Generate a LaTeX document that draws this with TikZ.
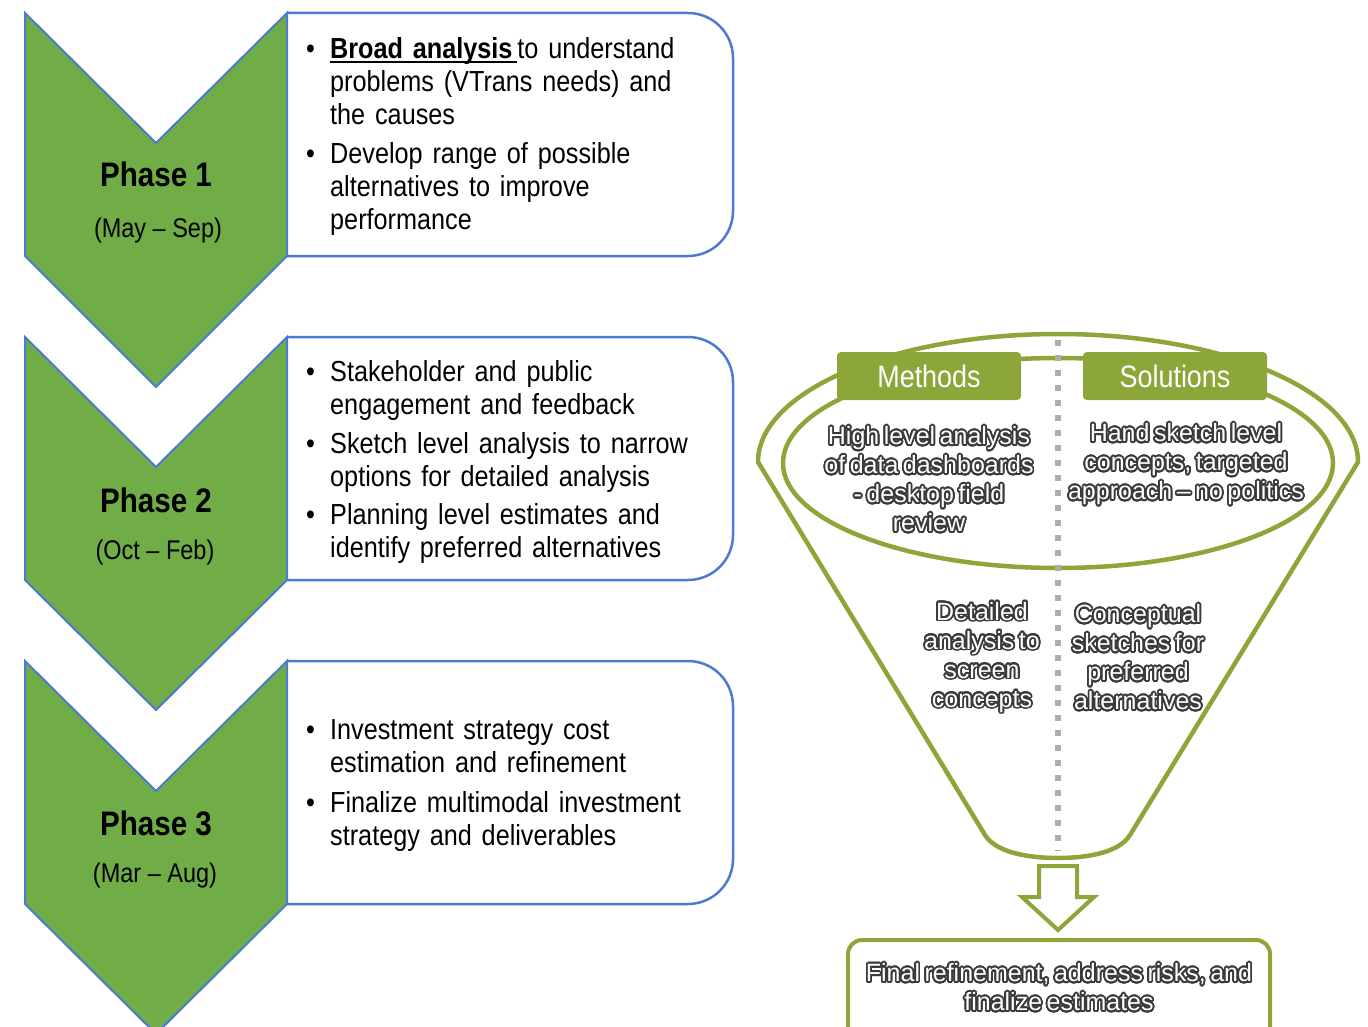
\documentclass[tikz,border=0pt]{standalone}
\usepackage{fontspec}
\setmainfont[FakeStretch=0.87]{Liberation Sans}
\newfontfamily\funnelfont{Liberation Sans}
\usepackage[copies]{contour}
\contourlength{1.7pt}
\contournumber{32}
\usetikzlibrary{calc}

\definecolor{phasegreen}{HTML}{70AD47}
\definecolor{phaseblue}{HTML}{4A7BCF}
\definecolor{funnelgreen}{HTML}{8DA63A}
\definecolor{glowgray}{HTML}{3A3A3A}
\definecolor{dotgray}{HTML}{ADADAD}

\newcommand{\glow}[1]{\contour{glowgray}{#1}}
\newcommand{\phaseul}[1]{\setbox0\hbox{#1}\rlap{\rule[-4pt]{\wd0}{1.8pt}}\box0}
\newcommand{\widespace}{\spaceskip=0.34em plus 0.1em\relax}
\newcommand{\tightspace}{\spaceskip=0.18em plus 0.05em\relax}

\tikzset{
    phase-chevron/.style={
        fill=phasegreen, draw=phaseblue, line width=2pt, line join=miter
    },
    phase-box/.style={
        draw=phaseblue, line width=2.5pt, rounded corners=45pt
    },
    phase-title/.style={font=\fontsize{34}{40}\selectfont\bfseries},
    phase-date/.style={font=\fontsize{27}{32}\selectfont},
    phase-text/.style={
        anchor=base west, inner sep=0pt, align=left,
        font=\fontsize{29}{33}\selectfont\widespace
    },
    funnel-line/.style={draw=funnelgreen, line width=4.5pt},
    funnel-tab/.style={
        fill=funnelgreen, rounded corners=4pt, minimum width=184pt,
        minimum height=48pt, text=white, font=\fontsize{31}{36}\selectfont
    },
    funnel-text/.style={
        text=white, align=center, inner sep=0pt,
        font=\fontsize{25}{29}\funnelfont\tightspace
    },
    final-box/.style={
        draw=funnelgreen, line width=4pt, rounded corners=14pt,
        minimum width=422pt, minimum height=110pt
    },
}

\begin{document}
\begin{tikzpicture}[x=1pt, y=-1pt]

        \useasboundingbox (0,0) rectangle (1368,1027);
        \clip (0,0) rectangle (1368,1027);

        % PHASE BOXES
        \draw[phase-box] (287,13)  -- (733,13)  -- (733,256) -- (287,256);
        \draw[phase-box] (287,337) -- (733,337) -- (733,580) -- (287,580);
        \draw[phase-box] (287,661) -- (733,661) -- (733,904) -- (287,904);

        % PHASE CHEVRONS
        \draw[phase-chevron] (25,13)  -- (156,143) -- (287,13)  -- (287,256) -- (156,387)  -- (25,256) -- cycle;
        \draw[phase-chevron] (25,337) -- (156,467) -- (287,337) -- (287,580) -- (156,710)  -- (25,580) -- cycle;
        \draw[phase-chevron] (25,661) -- (156,791) -- (287,661) -- (287,904) -- (156,1034) -- (25,904) -- cycle;

        % PHASE LABELS
        \node[phase-title] (P1) at (156,174) {Phase 1};
        \node[phase-date]  (D1) at (158,231) {(May – Sep)};
        \node[phase-title] (P2) at (156,500) {Phase 2};
        \node[phase-date]  (D2) at (155,553) {(Oct – Feb)};
        \node[phase-title] (P3) at (156,823) {Phase 3};
        \node[phase-date]  (D3) at (155,876) {(Mar – Aug)};

        % PHASE TEXTS
        \node[phase-text] (T1) at (306,59) {\begin{tabular}[t]{@{}p{24pt}@{}l@{}}
            \textbullet & \phaseul{\textbf{Broad analysis}\,}to understand\\
                        & problems (VTrans needs) and\\
                        & the causes\\[6pt]
            \textbullet & Develop range of possible\\
                        & alternatives to improve\\
                        & performance
        \end{tabular}};
        \node[phase-text] (T2) at (306,381) {\begin{tabular}[t]{@{}p{24pt}@{}l@{}}
            \textbullet & Stakeholder and public\\
                        & engagement and feedback\\[6pt]
            \textbullet & Sketch level analysis to narrow\\
                        & options for detailed analysis\\[5pt]
            \textbullet & Planning level estimates and\\
                        & identify preferred alternatives
        \end{tabular}};
        \node[phase-text] (T3) at (306,739) {\begin{tabular}[t]{@{}p{24pt}@{}l@{}}
            \textbullet & Investment strategy cost\\
                        & estimation and refinement\\[7pt]
            \textbullet & Finalize multimodal investment\\
                        & strategy and deliverables
        \end{tabular}};

        % FUNNEL
        \draw[funnel-line] (758,462) arc[start angle=180, end angle=360, x radius=300, y radius=128]
            -- (1130,835) .. controls (1119,853) and (1086,858) .. (1058,858)
            .. controls (1030,858) and (996,853) .. (985,835) -- cycle;
        \draw[funnel-line] (1058,463) ellipse[x radius=275, y radius=105];

        % DIVIDER
        \coordinate (DIVTOP) at (1058,340);
        \coordinate (DIVBOT) at (1058,851);
        \draw[dotgray, line width=6pt, dash pattern=on 6pt off 9pt] (DIVTOP) -- (DIVBOT);

        % TABS
        \node[funnel-tab] (METHODS)   at (929,376)  {Methods};
        \node[funnel-tab] (SOLUTIONS) at (1175,376) {Solutions};

        % FUNNEL TEXTS
        \node[funnel-text] (HIGH) at (929,480) {\glow{High level analysis}\\ \glow{of data dashboards}\\ \glow{- desktop field}\\ \glow{review}};
        \node[funnel-text] (HAND) at (1186,465) {\glow{Hand sketch level}\\ \glow{concepts, targeted}\\ \glow{approach – no politics}};
        \node[funnel-text] (DETAIL) at (982,658) {\glow{Detailed}\\ \glow{analysis to}\\ \glow{screen}\\ \glow{concepts}};
        \node[funnel-text] (CONCEPT) at (1138,658) {\glow{Conceptual}\\ \glow{sketches for}\\ \glow{preferred}\\ \glow{alternatives}};

        % FINAL BOX
        \node[final-box] (FINAL) at (1059,995) {};
        \node[funnel-text] (FINALTXT) at (1059,988) {\glow{Final refinement, address risks, and}\\ \glow{finalize estimates}};

        % ARROW
        \draw[funnel-line, line width=4pt, fill=white, line join=miter]
            (1039,866) -- (1077,866) -- (1077,897) -- (1094,897) -- (1058,930)
            -- (1022,897) -- (1039,897) -- cycle;

    \end{tikzpicture}
\end{document}
